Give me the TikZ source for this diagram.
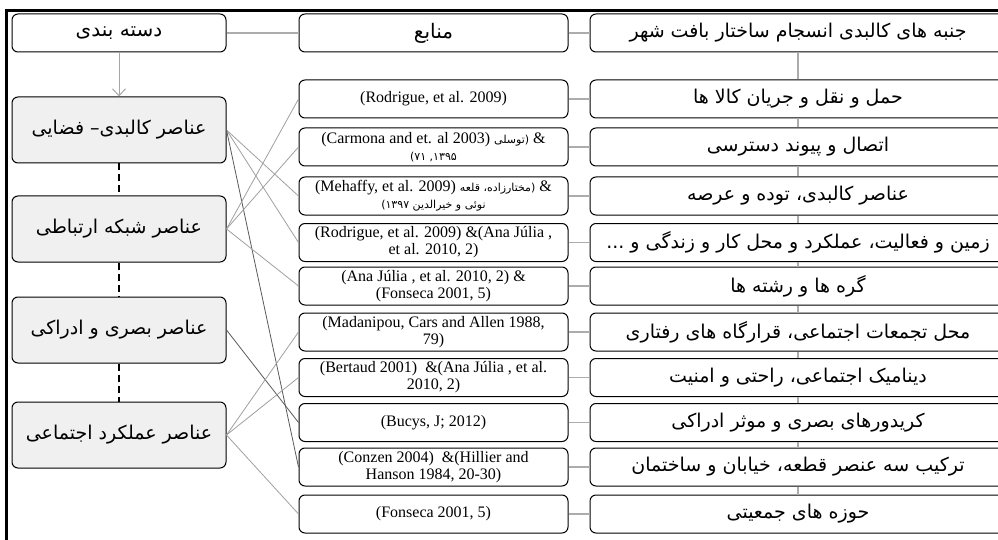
\documentclass[tikz,border=0pt]{standalone}
\usepackage{fontspec}
\setmainfont{Liberation Serif}
\newfontfamily\fa[Script=Arabic]{DejaVu Sans}
\TeXXeTstate=1
\usetikzlibrary{arrows.meta}

\newcommand{\pers}[1]{{\fa\beginR #1\endR}}
\newcommand{\smallfa}{\fontsize{11}{13}\selectfont}

\tikzset{
  box/.style={draw, line width=1pt, rounded corners=6pt, inner sep=0pt},
  headbox/.style={box, minimum height=38pt, font=\fontsize{20}{24}\selectfont},
  catbox/.style={box, fill=gray!12, minimum width=214pt, minimum height=66pt,
                 font=\fontsize{19}{22}\selectfont},
  srcbox/.style={box, align=center, minimum width=269pt, minimum height=38pt,
                 font=\fontsize{16}{17}\selectfont},
  aspbox/.style={box, minimum width=416pt, minimum height=38pt,
                 font=\fontsize{19}{22}\selectfont},
  link/.style={gray!75, line width=0.8pt},
  darklink/.style={black!65, line width=0.8pt},
  chain/.style={gray!65, line width=1.2pt}
}

\begin{document}
\begin{tikzpicture}[x=1pt, y=-1pt]

        \useasboundingbox (0,0) rectangle (998,540);
        \clip (0,0) rectangle (998,540);

        %Outer frame
        \draw [line width=3pt] (6,11) rectangle (1020,560);

        %Header row
        \node [headbox, minimum width=214pt] (cathead) at (119,33)   {\pers{دسته بندی}};
        \node [headbox, minimum width=269pt] (srchead) at (433.5,33) {\pers{منابع}};
        \node [aspbox]                       (asphead) at (798,33)   {\pers{جنبه های کالبدی انسجام ساختار بافت شهر}};

        \draw [chain] (cathead.east) -- (srchead.west);
        \draw [chain] (srchead.east) -- (asphead.west);

        %Categories
        \node [catbox] (phys) at (119,130) {\pers{عناصر کالبدی– فضایی}};
        \node [catbox] (net)  at (119,229) {\pers{عناصر شبکه ارتباطی}};
        \node [catbox] (vis)  at (119,330) {\pers{عناصر بصری و ادراکی}};
        \node [catbox] (soc)  at (119,435) {\pers{عناصر عملکرد اجتماعی}};

        \draw [gray!70, line width=1pt, -{Straight Barb[length=7pt, width=13pt]}] (cathead.south) -- (phys.north);
        \draw [line width=1.3pt, dash pattern=on 7pt off 4pt] (phys.south) -- (net.north);
        \draw [line width=1.3pt, dash pattern=on 7pt off 4pt] (net.south)  -- (vis.north);
        \draw [line width=1.3pt, dash pattern=on 7pt off 4pt] (vis.south)  -- (soc.north);

        %Aspects
        \node [aspbox] (asp1)  at (798,99)    {\pers{حمل و نقل و جریان کالا ها}};
        \node [aspbox] (asp2)  at (798,147)   {\pers{اتصال و پیوند دسترسی}};
        \node [aspbox] (asp3)  at (798,196)   {\pers{عناصر کالبدی، توده و عرصه}};
        \node [aspbox] (asp4)  at (798,242.5) {\pers{زمین و فعالیت، عملکرد و محل کار و زندگی و ...}};
        \node [aspbox] (asp5)  at (798,286)   {\pers{گره ها و رشته ها}};
        \node [aspbox] (asp6)  at (798,332)   {\pers{محل تجمعات اجتماعی، قرارگاه های رفتاری}};
        \node [aspbox] (asp7)  at (798,377.5) {\pers{دینامیک اجتماعی، راحتی و امنیت}};
        \node [aspbox] (asp8)  at (798,422.5) {\pers{کریدورهای بصری و موثر ادراکی}};
        \node [aspbox] (asp9)  at (798,467)   {\pers{ترکیب سه عنصر قطعه، خیابان و ساختمان}};
        \node [aspbox] (asp10) at (798,514)   {\pers{حوزه های جمعیتی}};

        \draw [chain] (asphead.south) -- (asp1.north);
        \draw [chain] (asp1.south) -- (asp2.north);
        \draw [chain] (asp2.south) -- (asp3.north);
        \draw [chain] (asp3.south) -- (asp4.north);
        \draw [chain] (asp4.south) -- (asp5.north);
        \draw [chain] (asp5.south) -- (asp6.north);
        \draw [chain] (asp6.south) -- (asp7.north);
        \draw [chain] (asp7.south) -- (asp8.north);
        \draw [chain] (asp8.south) -- (asp9.north);
        \draw [chain] (asp9.south) -- (asp10.north);

        %Sources
        \node [srcbox] (src1)  at (433.5,99)    {(Rodrigue, et al. 2009)};
        \node [srcbox] (src2)  at (433.5,147)   {(Carmona and et. al 2003) {\smallfa\pers{(توسلی}} \&\\
                                                 {\smallfa\pers{۱۳۹۵, ۷۱)}}};
        \node [srcbox] (src3)  at (433.5,196)   {(Mehaffy, et al. 2009) {\smallfa\pers{(مختارزاده، قلعه}} \&\\
                                                 {\smallfa\pers{نوئی و خیرالدین ۱۳۹۷)}}};
        \node [srcbox] (src4)  at (433.5,242.5) {(Rodrigue, et al. 2009) \&(Ana Júlia ,\\ et al. 2010, 2)};
        \node [srcbox] (src5)  at (433.5,286)   {(Ana Júlia , et al. 2010, 2) \&\\ (Fonseca 2001, 5)};
        \node [srcbox] (src6)  at (433.5,332)   {(Madanipou, Cars and Allen 1988,\\ 79)};
        \node [srcbox] (src7)  at (433.5,377.5) {(Bertaud 2001) \ \&(Ana Júlia , et al.\\ 2010, 2)};
        \node [srcbox] (src8)  at (433.5,422.5) {(Bucys, J; 2012)};
        \node [srcbox] (src9)  at (433.5,467)   {(Conzen 2004) \ \&(Hillier and\\ Hanson 1984, 20-30)};
        \node [srcbox] (src10) at (433.5,514)   {(Fonseca 2001, 5)};

        \draw [chain] (src1.east)  -- (asp1.west);
        \draw [chain] (src2.east)  -- (asp2.west);
        \draw [chain] (src3.east)  -- (asp3.west);
        \draw [chain] (src4.east)  -- (asp4.west);
        \draw [chain] (src5.east)  -- (asp5.west);
        \draw [chain] (src6.east)  -- (asp6.west);
        \draw [chain] (src7.east)  -- (asp7.west);
        \draw [chain] (src8.east)  -- (asp8.west);
        \draw [chain] (src9.east)  -- (asp9.west);
        \draw [chain] (src10.east) -- (asp10.west);

        %Category to source links
        \draw [link]     (phys.east) -- (src3.west);
        \draw [link]     (phys.east) -- (src4.west);
        \draw [darklink] (phys.east) -- (src9.west);
        \draw [link]     (net.east)  -- (src1.west);
        \draw [link]     (net.east)  -- (src2.west);
        \draw [link]     (net.east)  -- (src5.west);
        \draw [darklink] (vis.east)  -- (src8.west);
        \draw [link]     (soc.east)  -- (src6.west);
        \draw [link]     (soc.east)  -- (src7.west);
        \draw [link]     (soc.east)  -- (src10.west);

      \end{tikzpicture}
\end{document}
